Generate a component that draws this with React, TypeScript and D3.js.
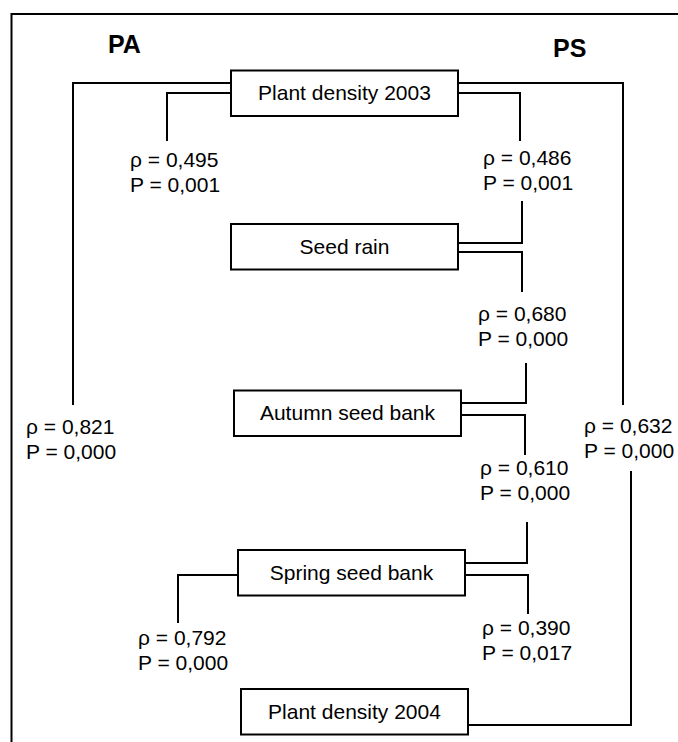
import { useEffect, useRef } from 'react';
import * as d3 from 'd3';

// variables in the path, top to bottom
const nodes = ["Plant density 2003", "Seed rain", "Autumn seed bank", "Spring seed bank", "Plant density 2004"];
const groups = ["PA", "PS"];

// correlations (Spearman rho and P) between pairs of variables
const linkGroup = ["PA", "PA", "PA", "PS", "PS", "PS", "PS", "PS"];
const linkSource = [0, 0, 3, 0, 1, 2, 3, 0];
const linkTarget = [1, 4, 4, 1, 2, 3, 4, 4];
const rhoValues = [0.495, 0.821, 0.792, 0.486, 0.680, 0.610, 0.390, 0.632];
const pValues = [0.001, 0.000, 0.000, 0.001, 0.000, 0.000, 0.017, 0.000];

// layout of the drawing (positions only)
const W = 678, H = 742;
const boxTop = [70.5, 224, 390.5, 550, 689];
const boxLeft = [231, 231, 234, 238, 241];
const boxW = 227, boxH = 45.5;
const groupX = [108, 553];
const groupY = [53, 57];
// per link: exit y on the source box, lane x, end of first leg, label x/y,
// optional second leg (lane x, start y, entry y on the target box)
const linkLayout = [
  { exitY: 93, lane: 167, end: 141, lx: 130, ly: 167 },
  { exitY: 83, lane: 73, end: 405, lx: 26, ly: 434 },
  { exitY: 575, lane: 178, end: 623, lx: 138, ly: 645 },
  { exitY: 93, lane: 520, end: 141, lx: 483, ly: 165, lane2: 522, start2: 201, enterY: 243 },
  { exitY: 252, lane: 522, end: 292, lx: 478, ly: 321, lane2: 526, start2: 363, enterY: 403 },
  { exitY: 415, lane: 525, end: 455, lx: 480, ly: 475, lane2: 527, start2: 522, enterY: 563 },
  { exitY: 575, lane: 528, end: 614, lx: 482, ly: 635 },
  { exitY: 83, lane: 623, end: 405, lx: 584, ly: 433, lane2: 631, start2: 471, enterY: 725 },
];

const FONT = "'Liberation Sans', Arial, sans-serif";

export default function App() {
  const svgRef = useRef<SVGSVGElement>(null);

  useEffect(() => {
    if (!svgRef.current) return;
    const svg = d3.select(svgRef.current);
    svg.selectAll("*").remove();

    const yTop = d3.scaleOrdinal<string, number>().domain(nodes).range(boxTop);
    const xLeft = d3.scaleOrdinal<string, number>().domain(nodes).range(boxLeft);
    const fmt = d3.formatLocale({ decimal: ",", thousands: ".", grouping: [3], currency: ["", ""] }).format(".3f");
    const line = d3.line<[number, number]>();

    // outer frame (bottom and right are cut off in the original)
    svg.append("path")
      .attr("d", line([[11.5, H + 5], [11.5, 14], [W + 5, 14]]))
      .attr("fill", "none")
      .attr("stroke", "#000")
      .attr("stroke-width", 2);

    svg.selectAll("text.group")
      .data(groups)
      .enter()
      .append("text")
      .attr("class", "group")
      .attr("x", (_, i) => groupX[i])
      .attr("y", (_, i) => groupY[i])
      .attr("font-family", FONT)
      .attr("font-size", 25)
      .attr("font-weight", "bold")
      .text(d => d);

    // connectors
    const links = rhoValues.map((rho, i) => ({
      group: linkGroup[i],
      source: nodes[linkSource[i]],
      target: nodes[linkTarget[i]],
      rho,
      p: pValues[i],
      ...linkLayout[i],
    }));

    links.forEach(l => {
      const side = l.group === "PA" ? xLeft(l.source) : xLeft(l.source) + boxW;
      svg.append("path")
        .attr("d", line([[side, l.exitY], [l.lane, l.exitY], [l.lane, l.end]]))
        .attr("fill", "none")
        .attr("stroke", "#000")
        .attr("stroke-width", 2);

      if (l.lane2 !== undefined) {
        const tSide = xLeft(l.target) + boxW;
        svg.append("path")
          .attr("d", line([[l.lane2, l.start2!], [l.lane2, l.enterY!], [tSide, l.enterY!]]))
          .attr("fill", "none")
          .attr("stroke", "#000")
          .attr("stroke-width", 2);
      }

      const t = svg.append("text")
        .attr("font-family", FONT)
        .attr("font-size", 21)
        .attr("fill", "#000");
      t.append("tspan").attr("x", l.lx).attr("y", l.ly).text(`ρ = ${fmt(l.rho)}`);
      t.append("tspan").attr("x", l.lx).attr("y", l.ly + 24.5).text(`P = ${fmt(l.p)}`);
    });

    // boxes
    const box = svg.selectAll("g.node")
      .data(nodes)
      .enter()
      .append("g")
      .attr("class", "node");

    box.append("rect")
      .attr("x", d => xLeft(d))
      .attr("y", d => yTop(d))
      .attr("width", boxW)
      .attr("height", boxH)
      .attr("fill", "#fff")
      .attr("stroke", "#000")
      .attr("stroke-width", 2);

    box.append("text")
      .attr("x", d => xLeft(d) + boxW / 2)
      .attr("y", d => yTop(d) + boxH / 2 + 7)
      .attr("text-anchor", "middle")
      .attr("font-family", FONT)
      .attr("font-size", 21)
      .text(d => d);
  }, []);

  return (
    <svg
      ref={svgRef}
      width={W}
      height={H}
      style={{ position: "absolute", left: 0, top: 0, background: "#fff" }}
    />
  );
}
